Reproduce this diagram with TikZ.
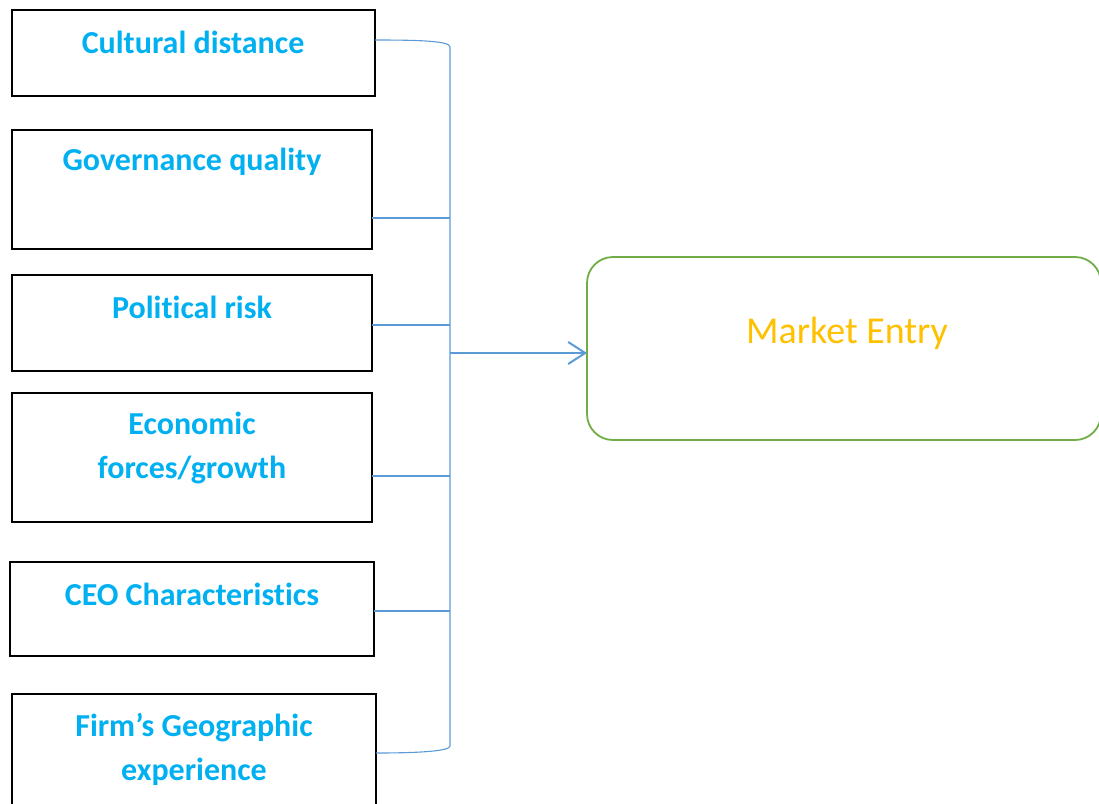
\documentclass[tikz,border=0pt]{standalone}
\usepackage{fontspec}
\setmainfont{Carlito}[Ligatures=CommonOff]
\usetikzlibrary{arrows.meta}
\definecolor{txtblue}{HTML}{00B0F0}
\definecolor{linkblue}{HTML}{5B9BD5}
\definecolor{boxgreen}{HTML}{70AD47}
\definecolor{entryyellow}{HTML}{FFC000}
\begin{document}
\begin{tikzpicture}[x=1pt,y=-1pt,
  box/.style={draw=black, line width=1.6pt, inner sep=0pt, outer sep=0pt},
  lbl/.style={text=txtblue, font=\bfseries\fontsize{32}{44}\selectfont, align=center, inner sep=0pt},
  link/.style={draw=linkblue, line width=1.1pt},
  entry/.style={draw=boxgreen, line width=1.8pt, rounded corners=26pt, inner sep=0pt, outer sep=0pt}]
\useasboundingbox (0,0) rectangle (1099,803);
% boxes
\node[box, minimum width=363pt, minimum height=86pt] (b1) at (193.5,53) {};
\node[box, minimum width=360pt, minimum height=119pt] (b2) at (192,189.5) {};
\node[box, minimum width=360pt, minimum height=96pt] (b3) at (192,323) {};
\node[box, minimum width=360pt, minimum height=129pt] (b4) at (192,457.5) {};
\node[box, minimum width=364pt, minimum height=94pt] (b5) at (192,609) {};
\node[box, minimum width=364pt, minimum height=120pt] (b6) at (194,754) {};
% labels
\node[lbl] (t1) at (193,42) {Cultural distance};
\node[lbl] (t2) at (192,162) {Governance quality};
\node[lbl] (t3) at (192,307) {Political risk};
\node[lbl] (t4) at (192,448) {Economic\\forces/growth};
\node[lbl] (t5) at (192,594) {CEO Characteristics};
\node[lbl] (t6) at (194,749) {Firm’s Geographic\\experience};
% market entry
\node[entry, minimum width=514pt, minimum height=183pt] (me) at (844,348.5) {};
\node[text=entryyellow, font=\fontsize{38}{44}\selectfont, inner sep=0pt] (tme) at (847,333) {Market Entry};
% bracket
\coordinate (s1) at (b1.east |- 0,40);
\coordinate (s2) at (b2.east |- 0,218);
\coordinate (s3) at (b3.east |- 0,325);
\coordinate (s4) at (b4.east |- 0,476);
\coordinate (s5) at (b5.east |- 0,611);
\coordinate (s6) at (b6.east |- 0,753);
\coordinate (top) at (450,47);
\coordinate (bot) at (450,746);
\coordinate (arr) at (450,353);
\draw[link] (s1) .. controls (420,40) and (450,41) .. (top) -- (bot) .. controls (450,751) and (420,753) .. (s6);
\draw[link] (s2) -- (s2 -| top);
\draw[link] (s3) -- (s3 -| top);
\draw[link] (s4) -- (s4 -| top);
\draw[link] (s5) -- (s5 -| top);
\draw[draw=linkblue, line width=2pt, -{Straight Barb[length=17pt,width=22pt,line width=2pt]}] (arr) -- (arr -| me.west);
\end{tikzpicture}
\end{document}
